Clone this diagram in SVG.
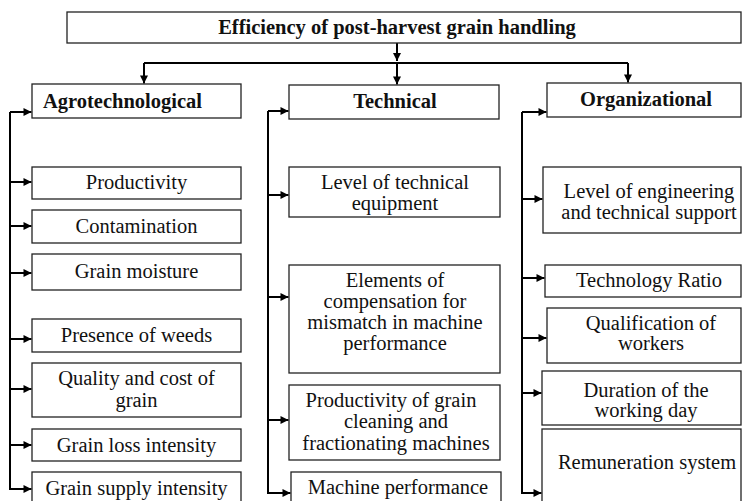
<svg xmlns="http://www.w3.org/2000/svg" width="744" height="501" viewBox="0 0 744 501" font-family="'Liberation Serif', 'DejaVu Serif', serif">
<style>
.box{fill:#fff;stroke:#222;stroke-width:1.3}
text{font-family:'Liberation Serif','DejaVu Serif',serif;font-size:20.5px;fill:#111;text-anchor:middle}
.b{font-weight:bold}
.s{text-anchor:start}
.c{fill:none;stroke:#000;stroke-width:2}
</style>
<defs>
<marker id="ah" viewBox="0 0 10 10" refX="10" refY="5" markerUnits="userSpaceOnUse" markerWidth="9" markerHeight="8" orient="auto">
<path d="M0,0 L10,5 L0,10 z" fill="#000"/>
</marker>
</defs>
<rect width="744" height="501" fill="#fff"/>

<g id="connectors">
<path class="c" d="M397,43 V61" marker-end="url(#ah)"/>
<path class="c" d="M144,63 H628"/>
<path class="c" d="M144,63 V83.5" marker-end="url(#ah)"/>
<path class="c" d="M397,63 V84.5" marker-end="url(#ah)"/>
<path class="c" d="M628,63 V82.5" marker-end="url(#ah)"/>

<path class="c" d="M10,112 V489"/>
<path class="c" d="M10,112 H31.5" marker-end="url(#ah)"/>
<path class="c" d="M10,182 H31.5" marker-end="url(#ah)"/>
<path class="c" d="M10,226 H31.5" marker-end="url(#ah)"/>
<path class="c" d="M10,273 H31.5" marker-end="url(#ah)"/>
<path class="c" d="M10,339 H31.5" marker-end="url(#ah)"/>
<path class="c" d="M10,389 H31.5" marker-end="url(#ah)"/>
<path class="c" d="M10,445 H31.5" marker-end="url(#ah)"/>
<path class="c" d="M9,489 H31.5" marker-end="url(#ah)"/>

<path class="c" d="M268,111 V493"/>
<path class="c" d="M268,111 H288.5" marker-end="url(#ah)"/>
<path class="c" d="M268,195 H288.5" marker-end="url(#ah)"/>
<path class="c" d="M268,297 H288.5" marker-end="url(#ah)"/>
<path class="c" d="M268,420 H288.5" marker-end="url(#ah)"/>
<path class="c" d="M267,493 H290.5" marker-end="url(#ah)"/>

<path class="c" d="M522,112 V493"/>
<path class="c" d="M522,112 H546.5" marker-end="url(#ah)"/>
<path class="c" d="M522,199 H542.5" marker-end="url(#ah)"/>
<path class="c" d="M522,278 H544.5" marker-end="url(#ah)"/>
<path class="c" d="M522,338 H546.5" marker-end="url(#ah)"/>
<path class="c" d="M522,393 H541.5" marker-end="url(#ah)"/>
<path class="c" d="M521,493 H541.5" marker-end="url(#ah)"/>
</g>

<g id="title">
<rect class="box" x="67" y="12" width="674" height="31"/>
<text class="b" x="397" y="34">Efficiency of post-harvest grain handling</text>
</g>

<g id="agro">
<rect class="box" x="32" y="84" width="209" height="34"/>
<text class="b s" x="43" y="108">Agrotechnological</text>
</g>
<g id="technical">
<rect class="box" x="289" y="85" width="210" height="34"/>
<text class="b" x="395" y="108">Technical</text>
</g>
<g id="organizational">
<rect class="box" x="547" y="83" width="194" height="34"/>
<text class="b" x="646" y="106">Organizational</text>
</g>

<g id="productivity">
<rect class="box" x="32" y="167" width="209" height="32"/>
<text x="136.5" y="189">Productivity</text>
</g>
<g id="contamination">
<rect class="box" x="32" y="210" width="209" height="33"/>
<text x="136.5" y="233">Contamination</text>
</g>
<g id="moisture">
<rect class="box" x="32" y="254" width="209" height="36"/>
<text x="136.5" y="278">Grain moisture</text>
</g>
<g id="weeds">
<rect class="box" x="32" y="319" width="209" height="33"/>
<text x="136.5" y="342">Presence of weeds</text>
</g>
<g id="quality">
<rect class="box" x="32" y="363" width="209" height="54"/>
<text x="136.5" y="385">Quality and cost of</text>
<text x="136.5" y="407">grain</text>
</g>
<g id="loss">
<rect class="box" x="32" y="429" width="209" height="32"/>
<text x="136.5" y="452">Grain loss intensity</text>
</g>
<g id="supply">
<rect class="box" x="32" y="472" width="209" height="32"/>
<text x="136.5" y="495">Grain supply intensity</text>
</g>

<g id="equipment">
<rect class="box" x="289" y="167" width="211" height="50"/>
<text x="395" y="189">Level of technical</text>
<text x="395" y="210">equipment</text>
</g>
<g id="compensation">
<rect class="box" x="289" y="265" width="211" height="108"/>
<text x="395" y="287">Elements of</text>
<text x="395" y="308">compensation for</text>
<text x="395" y="329">mismatch in machine</text>
<text x="395" y="350">performance</text>
</g>
<g id="cleaning">
<rect class="box" x="289" y="385" width="211" height="75"/>
<text x="391" y="407">Productivity of grain </text>
<text x="396" y="428">cleaning and</text>
<text x="396" y="450">fractionating machines</text>
</g>
<g id="machine">
<rect class="box" x="291" y="472" width="210" height="32"/>
<text x="398" y="494">Machine performance</text>
</g>

<g id="engineering">
<rect class="box" x="543" y="167" width="198" height="66"/>
<text x="649" y="198">Level of engineering</text>
<text x="649" y="219">and technical support</text>
</g>
<g id="ratio">
<rect class="box" x="545" y="265" width="196" height="32"/>
<text x="649" y="287">Technology Ratio</text>
</g>
<g id="qualification">
<rect class="box" x="547" y="308" width="194" height="55"/>
<text x="651" y="330">Qualification of</text>
<text x="651" y="350">workers</text>
</g>
<g id="duration">
<rect class="box" x="542" y="371" width="199" height="54"/>
<text x="646" y="397">Duration of the</text>
<text x="646" y="417">working day</text>
</g>
<g id="remuneration">
<rect class="box" x="542" y="429" width="199" height="75"/>
<text x="647" y="469">Remuneration system</text>
</g>
</svg>
